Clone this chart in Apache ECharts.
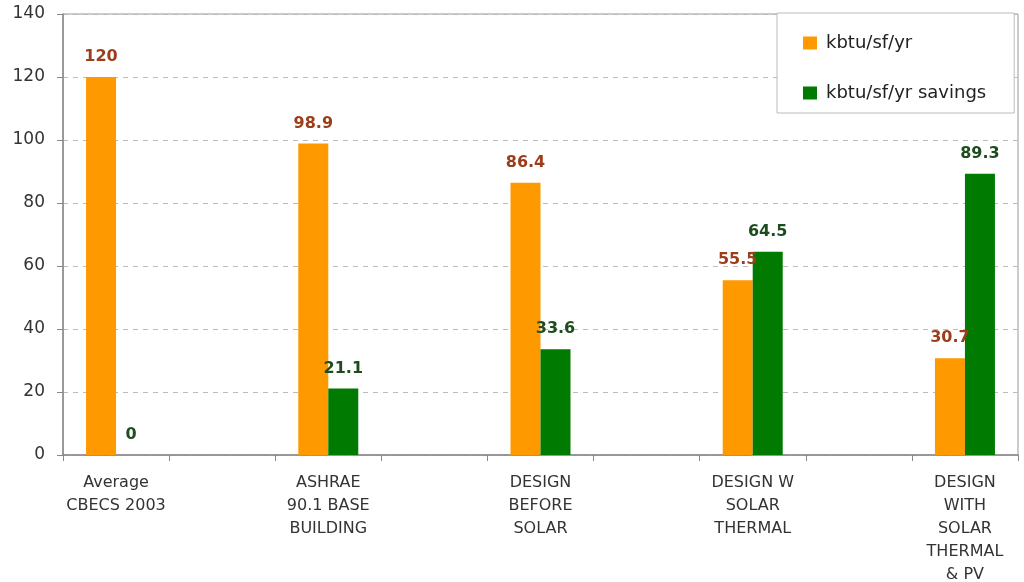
<!DOCTYPE html>
<html><head><meta charset="utf-8">
<script src="https://cdn.jsdelivr.net/npm/echarts@6/dist/echarts.min.js"></script>
<style>html,body{margin:0;padding:0;background:#fff}#c{width:1024px;height:582px}</style>
</head><body><div id="c"></div>
<script>
const categories = ['Average\nCBECS 2003', '', 'ASHRAE\n90.1 BASE\nBUILDING', '', 'DESIGN\nBEFORE\nSOLAR', '', 'DESIGN W\nSOLAR\nTHERMAL', '', 'DESIGN\nWITH\nSOLAR\nTHERMAL\n& PV'];
const usage = [120, null, 98.9, null, 86.4, null, 55.5, null, 30.7];
const savings = [0, null, 21.1, null, 33.6, null, 64.5, null, 89.3];
const seriesNames = ['kbtu/sf/yr', 'kbtu/sf/yr savings'];
const yTicks = {min: 0, max: 140, interval: 20};

const font = '"DejaVu Sans", sans-serif';
const chart = echarts.init(document.getElementById('c'));
chart.setOption({
  animation: false,
  backgroundColor: '#fff',
  textStyle: {fontFamily: font},
  grid: {left: 63, right: 6, top: 14, bottom: 127, show: true, borderColor: '#999', borderWidth: 1,
         containLabel: false, outerBoundsMode: 'none'},
  legend: {
    orient: 'vertical', left: 777, top: 13,
    data: seriesNames,
    itemWidth: 14, itemHeight: 13, itemGap: 32,
    icon: 'rect',
    padding: [21, 28, 11, 26],
    borderColor: '#bbb', borderWidth: 1, backgroundColor: '#fff',
    textStyle: {fontSize: 18, color: '#222', fontFamily: font, padding: [0, 0, 0, 4]}
  },
  xAxis: {
    type: 'category', data: categories,
    axisLine: {lineStyle: {color: '#888', width: 1.5}},
    axisTick: {show: true, length: 6, lineStyle: {color: '#888'}},
    axisLabel: {interval: 0, fontSize: 16, color: '#333', lineHeight: 23, margin: 16, fontFamily: font}
  },
  yAxis: {
    type: 'value', min: yTicks.min, max: yTicks.max, interval: yTicks.interval,
    axisLine: {show: true, lineStyle: {color: '#888', width: 1.5}},
    axisTick: {show: true, length: 6, lineStyle: {color: '#888'}},
    splitLine: {lineStyle: {color: '#bbb', type: [5, 5]}},
    axisLabel: {fontSize: 17, color: '#333', margin: 18, fontFamily: font}
  },
  series: [
    {
      name: seriesNames[0], type: 'bar', data: usage,
      barWidth: 30, barGap: '0%',
      itemStyle: {color: '#FF9900'},
      label: {show: true, position: 'top', distance: 12, fontSize: 16, fontWeight: 'bold', color: '#9c3d1c', fontFamily: font}
    },
    {
      name: seriesNames[1], type: 'bar', data: savings,
      barWidth: 30, barGap: '0%',
      itemStyle: {color: '#007a00'},
      label: {show: true, position: 'top', distance: 12, fontSize: 16, fontWeight: 'bold', color: '#1d4d1d', fontFamily: font}
    }
  ]
});
</script></body></html>
